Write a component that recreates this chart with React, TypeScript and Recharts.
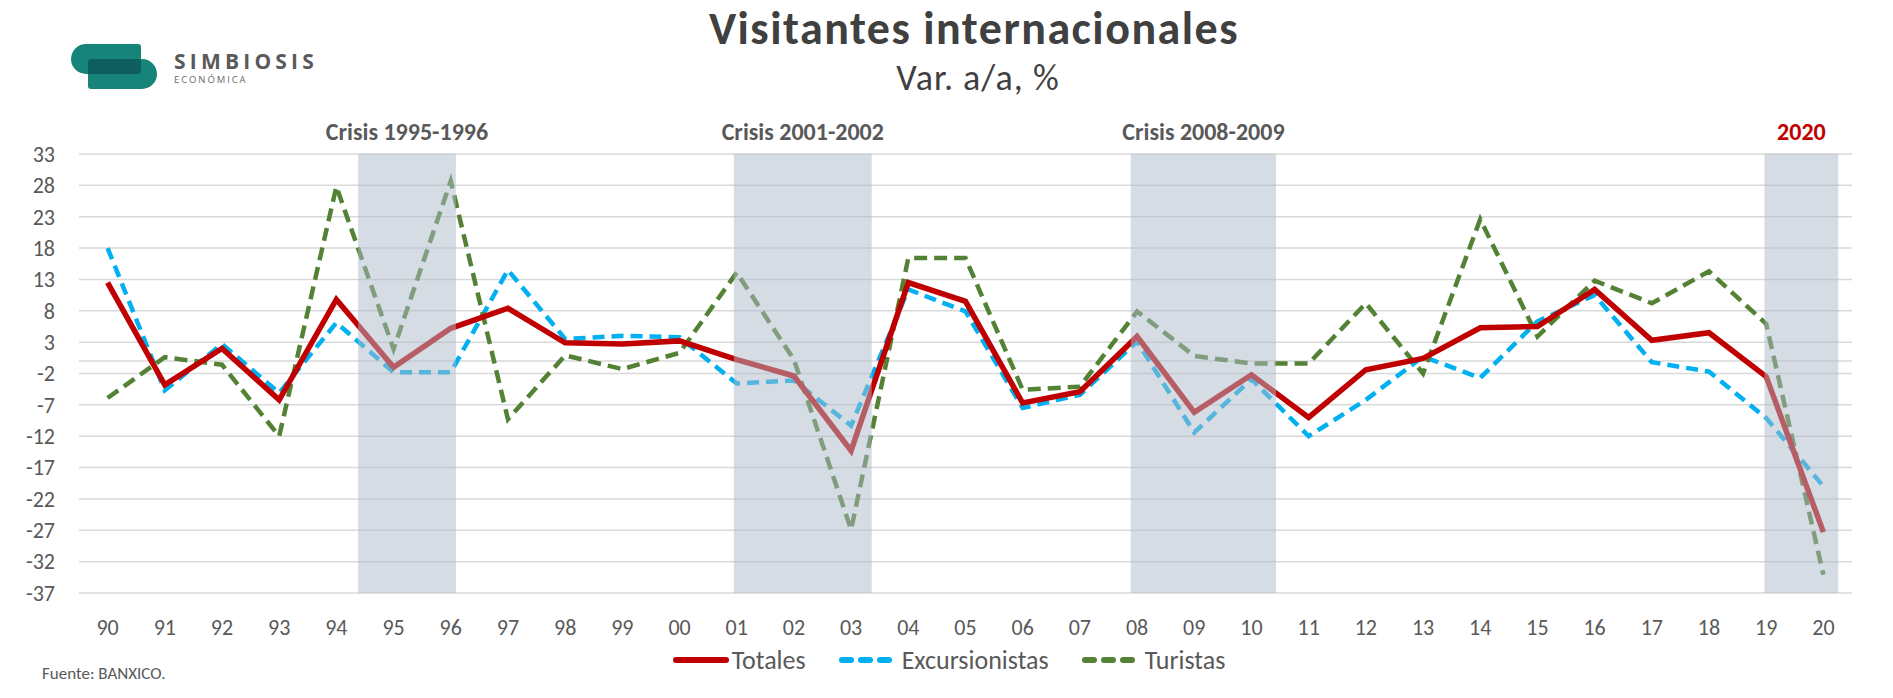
import React from 'react';
import {
    LineChart,
    Line,
    XAxis,
    YAxis,
    CartesianGrid,
    ReferenceArea,
    ReferenceLine,
    Legend,
} from 'recharts';

// años (90 = 1990 ... 20 = 2020)
const years = [
    '90', '91', '92', '93', '94', '95', '96', '97', '98', '99', '00',
    '01', '02', '03', '04', '05', '06', '07', '08', '09', '10',
    '11', '12', '13', '14', '15', '16', '17', '18', '19', '20',
];

const totales = [
    12.5, -3.8, 2.0, -6.2, 9.8, -1.0, 5.2, 8.4, 2.9, 2.7, 3.2,
    0.2, -2.4, -14.3, 12.5, 9.5, -6.7, -4.9, 3.9, -8.2, -2.2,
    -9.0, -1.4, 0.4, 5.3, 5.5, 11.4, 3.3, 4.5, -2.5, -27.3,
];

const excursionistas = [
    18.0, -4.7, 2.7, -5.1, 6.1, -1.8, -1.8, 14.5, 3.5, 4.0, 3.8,
    -3.6, -3.1, -10.3, 11.4, 7.9, -7.5, -5.4, 3.1, -11.4, -2.9,
    -12.0, -6.2, 0.7, -2.7, 6.3, 10.5, -0.2, -1.7, -9.1, -20.0,
];

const turistas = [
    -5.9, 0.6, -0.6, -12.0, 27.8, 1.9, 28.7, -9.3, 0.9, -1.3, 1.3,
    14.1, 0.2, -26.9, 16.4, 16.4, -4.6, -4.1, 7.9, 0.8, -0.4,
    -0.4, 9.2, -2.0, 22.6, 3.9, 12.8, 9.2, 14.3, 5.9, -34.1,
];

const yTicks = [33, 28, 23, 18, 13, 8, 3, -2, -7, -12, -17, -22, -27, -32, -37];

// periodos sombreados (en unidades de categoría)
const crisis = [
    { label: 'Crisis 1995-1996', from: 4.38, to: 6.09, color: '#595959' },
    { label: 'Crisis 2001-2002', from: 10.95, to: 13.36, color: '#595959' },
    { label: 'Crisis 2008-2009', from: 17.89, to: 20.43, color: '#595959' },
    { label: '2020', from: 28.97, to: 30.26, color: '#c00000' },
];

const data = years.map((y, i) => ({
    idx: i,
    year: y,
    totales: totales[i],
    excursionistas: excursionistas[i],
    turistas: turistas[i],
}));

const FONT = "Carlito, Calibri, Lato, sans-serif";

const legendItems = [
    { name: 'Totales', color: '#c00000', dash: undefined },
    { name: 'Excursionistas', color: '#00b0f0', dash: '9 10' },
    { name: 'Turistas', color: '#548235', dash: '9 10' },
];

function LegendContent() {
    return (
        <div
            style={{
                display: 'flex',
                justifyContent: 'center',
                alignItems: 'center',
                height: 30,
                fontFamily: FONT,
                fontSize: 26,
                color: '#595959',
                marginLeft: 4,
                gap: 32,
            }}
        >
            {legendItems.map((it) => (
                <div key={it.name} style={{ display: 'flex', alignItems: 'center' }}>
                    <svg width={58} height={10} style={{ marginRight: it.dash ? 6 : 2 }}>
                        <line
                            x1={4}
                            y1={5}
                            x2={54}
                            y2={5}
                            stroke={it.color}
                            strokeWidth={6}
                            strokeDasharray={it.dash}
                            strokeLinecap='round'
                        />
                    </svg>
                    <span>{it.name}</span>
                </div>
            ))}
        </div>
    );
}

function Logo() {
    return (
        <div style={{ position: 'absolute', left: 70, top: 44 }}>
            <svg width={90} height={46}>
                <path d="M16 0 H68 a3 3 0 0 1 3 3 V27 a3 3 0 0 1 -3 3 H16 a15 15 0 0 1 0 -30 Z" fill='#17847a' />
                <path d="M18 15 H72 a15 15 0 0 1 0 30 H21 a3 3 0 0 1 -3 -3 V18 a3 3 0 0 1 3 -3 Z" fill='#17847a' />
                <path d="M21 15 H68 a3 3 0 0 1 3 3 V27 a3 3 0 0 1 -3 3 H18 V18 a3 3 0 0 1 3 -3 Z" fill='#0f5e5f' />
            </svg>
            <div
                style={{
                    position: 'absolute',
                    left: 104,
                    top: 3,
                    fontFamily: "'Open Sans', sans-serif",
                    fontWeight: 700,
                    fontSize: 21,
                    letterSpacing: 4.2,
                    color: '#5a5a5a',
                    whiteSpace: 'nowrap',
                }}
            >
                SIMBIOSIS
            </div>
            <div
                style={{
                    position: 'absolute',
                    left: 104,
                    top: 29,
                    fontFamily: "'Open Sans', sans-serif",
                    fontSize: 9.5,
                    letterSpacing: 1.9,
                    color: '#6a6a6a',
                    whiteSpace: 'nowrap',
                }}
            >
                ECONÓMICA
            </div>
        </div>
    );
}

export default function App() {
    return (
        <div
            style={{
                position: 'absolute',
                left: 0,
                top: 0,
                width: 1893,
                height: 698,
                background: '#fff',
                fontFamily: FONT,
            }}
        >
            <Logo />
            <div
                style={{
                    position: 'absolute',
                    left: 0,
                    width: 1948,
                    top: 5,
                    textAlign: 'center',
                    fontSize: 46,
                    fontWeight: 700,
                    letterSpacing: 1.5,
                    color: '#404040',
                    lineHeight: '46px',
                }}
            >
                Visitantes internacionales
            </div>
            <div
                style={{
                    position: 'absolute',
                    left: 0,
                    width: 1956,
                    top: 58,
                    textAlign: 'center',
                    fontSize: 36,
                    letterSpacing: 1,
                    color: '#404040',
                    lineHeight: '40px',
                }}
            >
                Var. a/a, %
            </div>

            <LineChart
                width={1893}
                height={698}
                data={data}
                margin={{ top: 154, right: 41, left: 19, bottom: 35 }}
            >
                <CartesianGrid
                    vertical={false}
                    stroke='#d9d9d9'
                    strokeWidth={1.5}
                />
                <XAxis
                    dataKey='idx'
                    type='number'
                    domain={[-0.5, 30.5]}
                    ticks={years.map((_, i) => i)}
                    tickFormatter={(i: number) => years[i]}
                    interval={0}
                    axisLine={false}
                    tickLine={false}
                    tickSize={0}
                    tickMargin={26}
                    height={40}
                    tick={{ fill: '#595959', fontSize: 22, fontFamily: FONT }}
                />
                <YAxis
                    type='number'
                    domain={[-37, 33]}
                    ticks={yTicks}
                    interval={0}
                    axisLine={false}
                    tickLine={false}
                    tickSize={0}
                    tickMargin={24}
                    width={60}
                    tick={{ fill: '#595959', fontSize: 22, fontFamily: FONT }}
                />
                <ReferenceLine y={0} stroke='#d9d9d9' strokeWidth={1.5} />
                <Line
                    type='linear'
                    dataKey='excursionistas'
                    name='Excursionistas'
                    stroke='#00b0f0'
                    strokeWidth={4.5}
                    strokeDasharray='12 7'
                    dot={false}
                    activeDot={false}
                    isAnimationActive={false}
                />
                <Line
                    type='linear'
                    dataKey='turistas'
                    name='Turistas'
                    stroke='#548235'
                    strokeWidth={4.5}
                    strokeDasharray='13 7'
                    dot={false}
                    activeDot={false}
                    isAnimationActive={false}
                />
                <Line
                    type='linear'
                    dataKey='totales'
                    name='Totales'
                    stroke='#c00000'
                    strokeWidth={5.5}
                    dot={false}
                    activeDot={false}
                    isAnimationActive={false}
                />
                {crisis.map((c) => (
                    <ReferenceArea
                        key={c.label}
                        x1={c.from}
                        x2={c.to}
                        y1={-37}
                        y2={33}
                        fill='#acb9ca'
                        fillOpacity={0.5}
                        stroke='none'
                        ifOverflow='visible'
                        zIndex={1000}
                        label={{
                            value: c.label,
                            position: 'top',
                            offset: 14,
                            fill: c.color,
                            fontSize: 24,
                            fontWeight: 700,
                            fontFamily: FONT,
                        }}
                    />
                ))}
                <Legend
                    verticalAlign='bottom'
                    content={<LegendContent />}
                    wrapperStyle={{ bottom: 23, left: 0, width: 1893 }}
                />
            </LineChart>

            <div
                style={{
                    position: 'absolute',
                    left: 42,
                    top: 663,
                    fontSize: 17,
                    color: '#595959',
                }}
            >
                Fuente: BANXICO.
            </div>
        </div>
    );
}
